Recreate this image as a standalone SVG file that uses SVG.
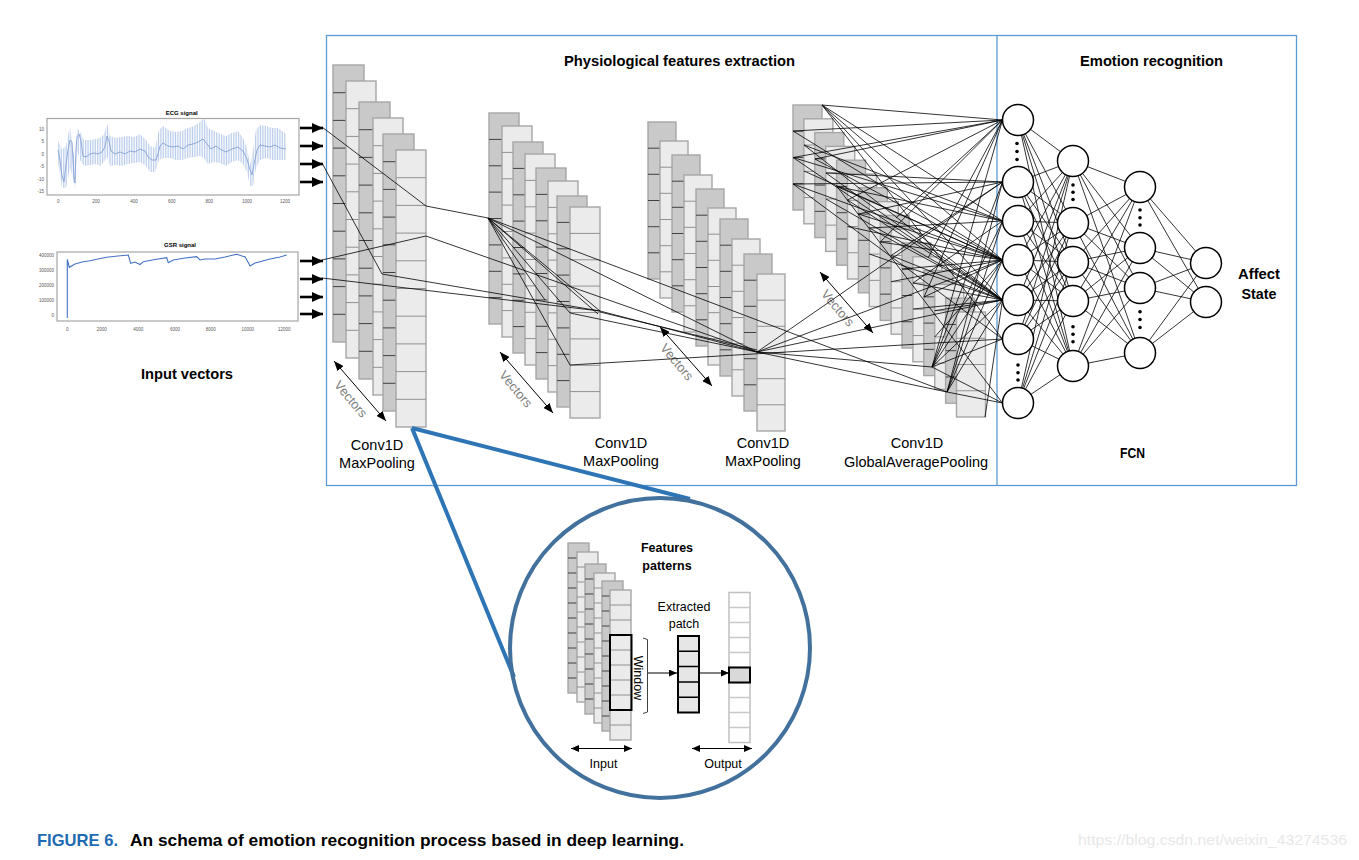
<svg xmlns="http://www.w3.org/2000/svg" xmlns:xlink="http://www.w3.org/1999/xlink" width="1359" height="860" viewBox="0 0 1359 860">
<defs>
<style>
.fr{fill:none;stroke:#5b9bd5;stroke-width:1.3}
.ttl{font-family:"Liberation Sans",Arial,sans-serif;font-weight:bold;font-size:15px;fill:#000}
.lbl{font-family:"Liberation Sans",Arial,sans-serif;font-size:14.5px;fill:#000}
.sm{font-family:"Liberation Sans",Arial,sans-serif;font-size:12.5px;fill:#000}
.smb{font-family:"Liberation Sans",Arial,sans-serif;font-size:12.5px;font-weight:bold;fill:#000}
.vec{font-family:"Liberation Sans",Arial,sans-serif;font-size:13px;fill:#7f7f7f}
.ax{font-family:"Liberation Sans",Arial,sans-serif;font-size:4.5px;fill:#595959}
.axt{font-family:"Liberation Sans",Arial,sans-serif;font-size:6px;font-weight:bold;fill:#000}
.dk{fill:#c9c9c9;stroke:#a6a6a6;stroke-width:1.4}
.lt{fill:#ebebeb;stroke:#a6a6a6;stroke-width:1.4}
.dl{stroke:#404040;stroke-width:1;fill:none}
.ll{stroke:#909090;stroke-width:1;fill:none}
.cn{fill:none;stroke:#000;stroke-width:0.8}
.nd{fill:#fff;stroke:#000;stroke-width:1.5}
.dot{fill:#000}
.bl{fill:none;stroke:#2e75b6;stroke-width:4}
</style>
<marker id="mIn" markerUnits="userSpaceOnUse" markerWidth="11" markerHeight="10" refX="11" refY="5" orient="auto"><path d="M0,0L11,5L0,10z" fill="#000"/></marker>
<marker id="mV" markerUnits="userSpaceOnUse" markerWidth="10" markerHeight="8" refX="10" refY="4" orient="auto-start-reverse"><path d="M0,0L10,4L0,8z" fill="#000"/></marker>
<marker id="mS" markerUnits="userSpaceOnUse" markerWidth="8" markerHeight="7" refX="8" refY="3.5" orient="auto-start-reverse"><path d="M0,0L8,3.5L0,7z" fill="#000"/></marker>
<pattern id="spk" patternUnits="userSpaceOnUse" width="1.7" height="10"><rect x="0" y="0" width="0.75" height="10" fill="#aec3e8"/></pattern>
<g id="a1d"><rect class="dk" width="31" height="277"/><path class="dl" d="M0,27.7h31M0,55.4h31M0,83.1h31M0,110.8h31M0,138.5h31M0,166.2h31M0,193.9h31M0,221.6h31M0,249.3h31"/></g>
<g id="a1l"><rect class="lt" width="30" height="277"/><path class="ll" d="M0,27.7h30M0,55.4h30M0,83.1h30M0,110.8h30M0,138.5h30M0,166.2h30M0,193.9h30M0,221.6h30M0,249.3h30"/></g>
<g id="a2d"><rect class="dk" width="30" height="211"/><path class="dl" d="M0,26.4h30M0,52.8h30M0,79.1h30M0,105.5h30M0,131.9h30M0,158.3h30M0,184.6h30"/></g>
<g id="a2l"><rect class="lt" width="30" height="211"/><path class="ll" d="M0,26.4h30M0,52.8h30M0,79.1h30M0,105.5h30M0,131.9h30M0,158.3h30M0,184.6h30"/></g>
<g id="a3d"><rect class="dk" width="28" height="157"/><path class="dl" d="M0,26.2h28M0,52.3h28M0,78.5h28M0,104.7h28M0,130.8h28"/></g>
<g id="a3l"><rect class="lt" width="28" height="157"/><path class="ll" d="M0,26.2h28M0,52.3h28M0,78.5h28M0,104.7h28M0,130.8h28"/></g>
<g id="a4d"><rect class="dk" width="29" height="105"/><path class="dl" d="M0,26.25h29M0,52.5h29M0,78.75h29"/></g>
<g id="a4l"><rect class="lt" width="29" height="105"/><path class="ll" d="M0,26.25h29M0,52.5h29M0,78.75h29"/></g>
<g id="a5d"><rect class="dk" width="21" height="150"/><path class="dl" d="M0,15h21M0,30h21M0,45h21M0,60h21M0,75h21M0,90h21M0,105h21M0,120h21M0,135h21"/></g>
<g id="a5l"><rect class="lt" width="21" height="150"/><path class="ll" d="M0,15h21M0,30h21M0,45h21M0,60h21M0,75h21M0,90h21M0,105h21M0,120h21M0,135h21"/></g>
</defs>
<rect width="1359" height="860" fill="#fff"/>

<!-- frame -->
<g id="frame">
<rect class="fr" x="326.5" y="35.5" width="970" height="450"/>
<line class="fr" x1="997" y1="35.5" x2="997" y2="485.5"/>
<text class="ttl" x="679.5" y="66" text-anchor="middle" textLength="231" lengthAdjust="spacingAndGlyphs">Physiological features extraction</text>
<text class="ttl" x="1151.5" y="66" text-anchor="middle" textLength="143" lengthAdjust="spacingAndGlyphs">Emotion recognition</text>
</g>

<!-- input signals -->
<g id="ecg">
<text class="axt" x="181.7" y="115" text-anchor="middle">ECG signal</text>
<rect x="47" y="118.5" width="252" height="76.5" fill="#fff" stroke="#a6a6a6" stroke-width="1.2"/>
<polygon fill="url(#spk)" points="58,140 62,150 66,146 70,126 73,150 75,160 77,128 80,132 84,140 90,140 96,139 100,138 104,134 107,124 110,136 116,138 122,137 128,136 134,137 140,134 146,140 150,146 155,148 159,130 163,126 170,131 176,132 182,131 188,128 194,126 200,122 204,118 208,128 214,131 220,134 226,136 232,133 238,131 243,138 247,148 250,165 253,150 256,130 260,125 266,126 272,128 278,128 286,134 286,160 278,160 272,160 266,158 260,160 256,168 253,186 250,186 247,172 243,164 238,160 232,162 226,166 220,163 214,162 208,164 204,158 200,156 194,157 188,158 182,160 176,160 170,158 163,158 159,160 155,172 150,172 146,166 140,162 134,163 128,164 122,166 116,165 110,166 107,156 104,162 100,166 96,164 90,165 84,166 80,160 77,150 75,192 73,178 70,168 66,188 62,188 58,162"/>
<path d="M58,150L60,160L62,176L64,182L66,165L68,150L70,140L72,142L73,160L74,176L75,183L76,150L77,137L79,134L81,141L83,156L86,157L90,154L94,153L98,154L102,152L105,147L107,136L109,141L111,151L115,154L120,152L125,154L130,151L135,152L140,149L145,151L148,157L152,160L156,160L158,154L160,146L163,143L168,146L173,147L178,146L183,149L188,145L193,144L198,142L203,139L207,144L211,149L216,146L220,149L226,152L232,149L238,147L243,151L247,159L250,170L252,175L254,164L257,150L260,145L265,146L270,147L275,145L280,148L286,149" fill="none" stroke="#86a2d6" stroke-width="0.9"/>
<g class="ax" text-anchor="end">
<text x="44" y="130.8">10</text><text x="44" y="143.2">5</text><text x="44" y="155.5">0</text><text x="44" y="168.2">-5</text><text x="44" y="180.8">-10</text><text x="44" y="193.2">-15</text>
</g>
<g class="ax" text-anchor="middle">
<text x="58.3" y="203">0</text><text x="96" y="203">200</text><text x="134" y="203">400</text><text x="171.7" y="203">600</text><text x="209.3" y="203">800</text><text x="247" y="203">1000</text><text x="285" y="203">1200</text>
</g>
</g>

<g id="gsr">
<text class="axt" x="180" y="246.7" text-anchor="middle">GSR signal</text>
<rect x="57" y="252" width="241" height="69" fill="#fff" stroke="#a6a6a6" stroke-width="1.2"/>
<path d="M67.3,318L67.3,259.5L69.3,267.3L75,264L82,262L90,260.7L98,259L106.7,257.3L118,256L128.3,255L130.7,263.3L135,262L140,264.5L143.3,261.7L155,259.5L166.7,257.7L168.3,262.7L173.3,260L185,258L196.7,256.7L200,260L205,259L215,259L225,257L236.7,254.3L242,256L245,256.7L248,262L250,266L255,263L260,261.7L270,259L280,257L286.7,255" fill="none" stroke="#4472c4" stroke-width="1.1"/>
<g class="ax" text-anchor="end">
<text x="54" y="257.3">400000</text><text x="54" y="272.3">300000</text><text x="54" y="287.3">200000</text><text x="54" y="301.6">100000</text><text x="54" y="316.6">0</text>
</g>
<g class="ax" text-anchor="middle">
<text x="67.3" y="331">0</text><text x="101.7" y="331">2000</text><text x="138.3" y="331">4000</text><text x="175" y="331">6000</text><text x="210.7" y="331">8000</text><text x="247.7" y="331">10000</text><text x="284.3" y="331">12000</text>
</g>
</g>

<g id="input-label">
<text class="ttl" x="187" y="379" text-anchor="middle" textLength="92" lengthAdjust="spacingAndGlyphs">Input vectors</text>
</g>

<!-- stack 1 -->
<g id="stack1">
<use href="#a1d" x="333" y="65"/>
<use href="#a1l" x="346" y="81"/>
<use href="#a1d" x="359" y="102"/>
<use href="#a1l" x="373" y="118"/>
<use href="#a1d" x="383" y="134"/>
<use href="#a1l" x="396" y="150"/>
<text class="lbl" x="377" y="450" text-anchor="middle">Conv1D</text>
<text class="lbl" x="377" y="468" text-anchor="middle">MaxPooling</text>
</g>

<!-- stack 2 -->
<g id="stack2">
<use href="#a2d" x="489" y="113"/>
<use href="#a2l" x="502" y="126"/>
<use href="#a2d" x="513" y="142"/>
<use href="#a2l" x="525" y="154"/>
<use href="#a2d" x="536" y="168"/>
<use href="#a2l" x="548" y="181"/>
<use href="#a2d" x="557" y="196"/>
<use href="#a2l" x="570" y="207"/>
<text class="lbl" x="621" y="448" text-anchor="middle">Conv1D</text>
<text class="lbl" x="621" y="466" text-anchor="middle">MaxPooling</text>
</g>

<!-- stack 3 -->
<g id="stack3">
<use href="#a3d" x="648" y="122"/>
<use href="#a3l" x="660" y="141"/>
<use href="#a3d" x="672" y="155"/>
<use href="#a3l" x="684" y="175"/>
<use href="#a3d" x="696" y="189"/>
<use href="#a3l" x="708" y="208"/>
<use href="#a3d" x="720" y="219"/>
<use href="#a3l" x="732" y="239"/>
<use href="#a3d" x="744" y="254"/>
<use href="#a3l" x="757" y="274"/>
<text class="lbl" x="763" y="448" text-anchor="middle">Conv1D</text>
<text class="lbl" x="763" y="466" text-anchor="middle">MaxPooling</text>
</g>

<!-- stack 4 -->
<g id="stack4">
<use href="#a4d" x="793" y="105"/>
<use href="#a4l" x="803.9" y="118.8"/>
<use href="#a4d" x="814.8" y="132.6"/>
<use href="#a4l" x="825.7" y="146.4"/>
<use href="#a4d" x="836.6" y="160.2"/>
<use href="#a4l" x="847.5" y="174"/>
<use href="#a4d" x="858.4" y="187.8"/>
<use href="#a4l" x="869.3" y="201.6"/>
<use href="#a4d" x="880.2" y="215.4"/>
<use href="#a4l" x="891.1" y="229.2"/>
<use href="#a4d" x="902" y="243"/>
<use href="#a4l" x="912.9" y="256.8"/>
<use href="#a4d" x="923.8" y="270.6"/>
<use href="#a4l" x="934.7" y="284.4"/>
<use href="#a4d" x="945.6" y="298.2"/>
<use href="#a4l" x="956.5" y="312"/>
<text class="lbl" x="917" y="448" text-anchor="middle">Conv1D</text>
<text class="lbl" x="916" y="467" text-anchor="middle">GlobalAveragePooling</text>
</g>

<!-- vectors annotations -->
<g id="vectors">
<line x1="334" y1="361" x2="386" y2="421" stroke="#000" stroke-width="1" marker-start="url(#mV)" marker-end="url(#mV)"/>
<text class="vec" transform="translate(351,399) rotate(50)" text-anchor="middle" dy="0.35em">Vectors</text>
<line x1="500" y1="352" x2="553" y2="413" stroke="#000" stroke-width="1" marker-start="url(#mV)" marker-end="url(#mV)"/>
<text class="vec" transform="translate(516,389) rotate(50)" text-anchor="middle" dy="0.35em">Vectors</text>
<line x1="660" y1="327" x2="712" y2="386" stroke="#000" stroke-width="1" marker-start="url(#mV)" marker-end="url(#mV)"/>
<text class="vec" transform="translate(677,362) rotate(50)" text-anchor="middle" dy="0.35em">Vectors</text>
<line x1="820" y1="272" x2="873" y2="333" stroke="#000" stroke-width="1" marker-start="url(#mV)" marker-end="url(#mV)"/>
<text class="vec" transform="translate(838,308) rotate(50)" text-anchor="middle" dy="0.35em">Vectors</text>
</g>

<!-- connectors -->
<g id="connectors">
<g stroke="#000" stroke-width="2.6" marker-end="url(#mIn)">
<line x1="300" y1="128" x2="323" y2="128"/>
<line x1="300" y1="146" x2="323" y2="146"/>
<line x1="300" y1="164" x2="323" y2="164"/>
<line x1="300" y1="182" x2="323" y2="182"/>
<line x1="300" y1="261" x2="323" y2="261"/>
<line x1="300" y1="279" x2="323" y2="279"/>
<line x1="300" y1="297" x2="323" y2="297"/>
<line x1="300" y1="314" x2="323" y2="314"/>
</g>
<path class="cn" d="M322,127L426,206L488,218M322,163L382,274L600,311M322,260L426,236L757,352M322,278L600,311
M488,218L600,311M488,218L598,314M488,218L570,313M488,218L570,365M488,218L757,352M488,218L947,392M488,218L545,300
M600,311L757,352M600,312L757,350M570,313L757,352M570,365L1002.5,339
M757,352L1002.5,182M757,352L1002.5,260M757,352L1002.5,300M757,352L932,367M757,352L947,392"/>
<path class="cn" d="M822,105L1002.5,120M822,105L1002.5,221M822,105L1002.5,260M822,105L1002.5,300M822,105L1002.5,339
M793,131L1002.5,120M793,131L1002.5,260
M793,157.5L1002.5,120M793,157.5L1002.5,221M793,157.5L1002.5,300
M793,184L1002.5,182M793,184L1002.5,260M793,184L1002.5,339
M804,145L1002.5,221M804,145L1002.5,300
M815,159L1002.5,120M815,159L1002.5,260
M826,173L1002.5,182M826,173L1002.5,300
M837,186.5L1002.5,221M837,186.5L1002.5,260M837,186.5L1002.5,403
M847.5,200L1002.5,300M847.5,200L1002.5,120
M858.4,214L1002.5,260M858.4,214L1002.5,182
M869.3,228L1002.5,300M869.3,228L1002.5,221
M880.2,242L1002.5,260M880.2,242L1002.5,120
M891.1,255.5L1002.5,300M891.1,255.5L1002.5,182
M902,269L1002.5,260
M913,283L1002.5,300M913,283L1002.5,221
M924,297L1002.5,260M924,297L1002.5,120
M934.7,310.7L1002.5,300
M804,171L1002.5,260M826,199L1002.5,300M847.5,226.5L1002.5,260M869.3,254L1002.5,300M891.1,281.7L1002.5,260M913,309L1002.5,300M934.7,337L1002.5,260
M932,367L1002.5,120M932,367L1002.5,182M932,367L1002.5,221M932,367L1002.5,260M932,367L1002.5,300M932,367L1002.5,339M932,367L1002.5,403
M947,392L1002.5,182M947,392L1002.5,221M947,392L1002.5,260M947,392L1002.5,300M947,392L1002.5,403
M985,417L1002.5,300M896,218L1002.5,120M928,258L1002.5,120"/>
<path class="cn" d="M1018,120L1073,161M1018,120L1073,223M1018,120L1073,262M1018,120L1073,301M1018,120L1073,366
M1018,182L1073,161M1018,182L1073,223M1018,182L1073,262M1018,182L1073,301M1018,182L1073,366
M1018,221L1073,161M1018,221L1073,223M1018,221L1073,262M1018,221L1073,301M1018,221L1073,366
M1018,260L1073,161M1018,260L1073,223M1018,260L1073,262M1018,260L1073,301M1018,260L1073,366
M1018,300L1073,161M1018,300L1073,223M1018,300L1073,262M1018,300L1073,301M1018,300L1073,366
M1018,339L1073,161M1018,339L1073,223M1018,339L1073,262M1018,339L1073,301M1018,339L1073,366
M1018,403L1073,161M1018,403L1073,223M1018,403L1073,262M1018,403L1073,301M1018,403L1073,366
M1073,161L1140,187M1073,161L1140,248M1073,161L1140,288M1073,161L1140,353
M1073,223L1140,187M1073,223L1140,248M1073,223L1140,288M1073,223L1140,353
M1073,262L1140,187M1073,262L1140,248M1073,262L1140,288M1073,262L1140,353
M1073,301L1140,187M1073,301L1140,248M1073,301L1140,288M1073,301L1140,353
M1073,366L1140,187M1073,366L1140,248M1073,366L1140,288M1073,366L1140,353
M1140,187L1206,263M1140,187L1206,302M1140,248L1206,263M1140,248L1206,302
M1140,288L1206,263M1140,288L1206,302M1140,353L1206,263M1140,353L1206,302"/>
<path class="bl" d="M412,428L690,499M412,428L514,677"/>
</g>

<!-- FCN nodes -->
<g id="fcn-layer1">
<circle class="nd" cx="1018" cy="120" r="15.5"/>
<circle class="nd" cx="1018" cy="182" r="15.5"/>
<circle class="nd" cx="1018" cy="221" r="15.5"/>
<circle class="nd" cx="1018" cy="260" r="15.5"/>
<circle class="nd" cx="1018" cy="300" r="15.5"/>
<circle class="nd" cx="1018" cy="339" r="15.5"/>
<circle class="nd" cx="1018" cy="403" r="15.5"/>
<circle class="dot" cx="1017" cy="143.5" r="1.8"/><circle class="dot" cx="1017" cy="151.5" r="1.8"/><circle class="dot" cx="1017" cy="159.5" r="1.8"/>
<circle class="dot" cx="1018" cy="365" r="1.8"/><circle class="dot" cx="1018" cy="372.7" r="1.8"/><circle class="dot" cx="1018" cy="380" r="1.8"/>
</g>
<g id="fcn-layer2">
<circle class="nd" cx="1073" cy="161" r="15.5"/>
<circle class="nd" cx="1073" cy="223" r="15.5"/>
<circle class="nd" cx="1073" cy="262" r="15.5"/>
<circle class="nd" cx="1073" cy="301" r="15.5"/>
<circle class="nd" cx="1073" cy="366" r="15.5"/>
<circle class="dot" cx="1073" cy="185" r="1.8"/><circle class="dot" cx="1073" cy="192.3" r="1.8"/><circle class="dot" cx="1073" cy="199.5" r="1.8"/>
<circle class="dot" cx="1073" cy="326.7" r="1.8"/><circle class="dot" cx="1073" cy="334.3" r="1.8"/><circle class="dot" cx="1073" cy="341.7" r="1.8"/>
</g>
<g id="fcn-layer3">
<circle class="nd" cx="1140" cy="187" r="15.5"/>
<circle class="nd" cx="1140" cy="248" r="15.5"/>
<circle class="nd" cx="1140" cy="288" r="15.5"/>
<circle class="nd" cx="1140" cy="353" r="15.5"/>
<circle class="dot" cx="1140" cy="210" r="1.8"/><circle class="dot" cx="1140" cy="217.7" r="1.8"/><circle class="dot" cx="1140" cy="225" r="1.8"/>
<circle class="dot" cx="1140" cy="311.7" r="1.8"/><circle class="dot" cx="1140" cy="319.5" r="1.8"/><circle class="dot" cx="1140" cy="327.5" r="1.8"/>
</g>
<g id="fcn-output">
<circle class="nd" cx="1206" cy="263" r="15.5"/>
<circle class="nd" cx="1206" cy="302" r="15.5"/>
<text class="ttl" x="1259" y="278.5" text-anchor="middle" textLength="42" lengthAdjust="spacingAndGlyphs">Affect</text>
<text class="ttl" x="1259" y="298.5" text-anchor="middle" textLength="35" lengthAdjust="spacingAndGlyphs">State</text>
<text class="ttl" x="1132.5" y="458" text-anchor="middle" font-size="13" textLength="25" lengthAdjust="spacingAndGlyphs">FCN</text>
</g>

<!-- detail circle -->
<g id="detail">
<circle cx="660" cy="648" r="150" fill="none" stroke="#41719c" stroke-width="4"/>
<text class="smb" x="667" y="552" text-anchor="middle">Features</text>
<text class="smb" x="667" y="570" text-anchor="middle">patterns</text>
<use href="#a5d" x="568" y="543"/>
<use href="#a5l" x="577" y="552"/>
<use href="#a5d" x="585" y="564"/>
<use href="#a5l" x="594" y="573"/>
<use href="#a5d" x="602" y="581"/>
<use href="#a5l" x="610" y="590"/>
<rect x="610" y="635" width="21.5" height="75" fill="none" stroke="#000" stroke-width="2"/>
<path d="M643,638L647.5,639.5L647.5,712L643,713.5" fill="none" stroke="#404040" stroke-width="1"/>
<text class="sm" transform="translate(638.5,678) rotate(90)" text-anchor="middle" dy="0.35em" font-size="11.5">Window</text>
<line x1="648" y1="673" x2="677" y2="673" stroke="#000" stroke-width="1" marker-end="url(#mS)"/>
<text class="sm" x="684" y="611" text-anchor="middle">Extracted</text>
<text class="sm" x="684" y="628" text-anchor="middle">patch</text>
<rect x="678" y="636" width="21" height="76.5" fill="#e6e6e6" stroke="#000" stroke-width="2"/>
<path d="M678,651.3h21M678,666.6h21M678,681.9h21M678,697.2h21" stroke="#000" stroke-width="1.5"/>
<line x1="699" y1="673" x2="729" y2="673" stroke="#000" stroke-width="1" marker-end="url(#mS)"/>
<rect x="729" y="592.5" width="21" height="150" fill="#fff" stroke="#c0c0c0" stroke-width="1.5"/>
<path d="M729,607.5h21M729,622.5h21M729,637.5h21M729,652.5h21M729,667.5h21M729,682.5h21M729,697.5h21M729,712.5h21M729,727.5h21" stroke="#c8c8c8" stroke-width="1.5"/>
<rect x="729" y="667.5" width="21" height="15" fill="#d9d9d9" stroke="#000" stroke-width="2"/>
<line x1="571" y1="748.5" x2="632" y2="748.5" stroke="#000" stroke-width="1" marker-start="url(#mS)" marker-end="url(#mS)"/>
<text class="sm" x="603.5" y="768" text-anchor="middle">Input</text>
<line x1="692" y1="748.5" x2="752" y2="748.5" stroke="#000" stroke-width="1" marker-start="url(#mS)" marker-end="url(#mS)"/>
<text class="sm" x="723" y="768" text-anchor="middle">Output</text>
</g>

<!-- caption -->
<g id="caption">
<text x="37" y="846" font-family="'Liberation Sans',Arial,sans-serif" font-weight="bold" font-size="17" fill="#1f6bb3" textLength="81" lengthAdjust="spacingAndGlyphs">FIGURE 6.</text>
<text x="130" y="846" font-family="'Liberation Sans',Arial,sans-serif" font-weight="bold" font-size="17" fill="#000" textLength="554" lengthAdjust="spacingAndGlyphs">An schema of emotion recognition process based in deep learning.</text>
<text x="1078" y="845" font-family="'Liberation Sans',Arial,sans-serif" font-size="14" fill="#e8e8e8" textLength="269" lengthAdjust="spacingAndGlyphs">https://blog.csdn.net/weixin_43274536</text>
</g>
</svg>
